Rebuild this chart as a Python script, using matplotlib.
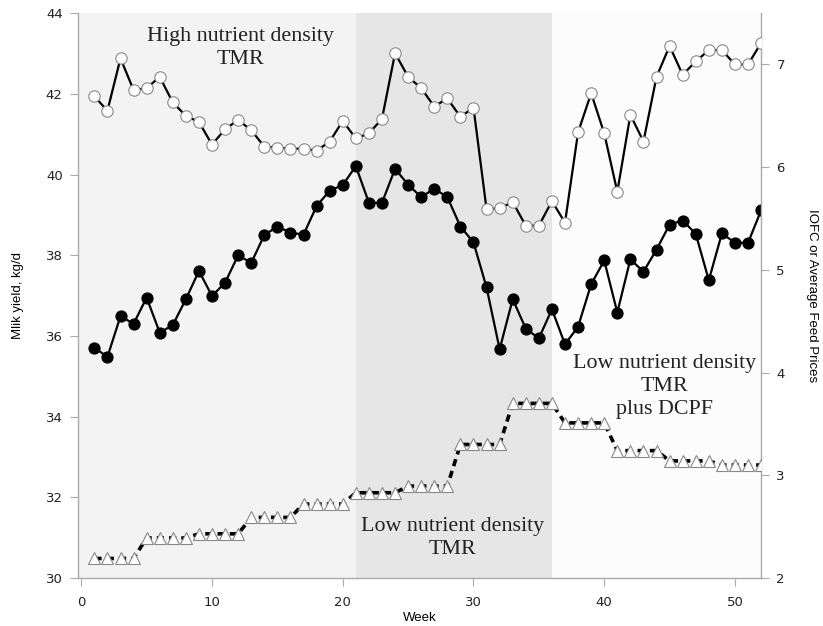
import matplotlib.pyplot as plt

semanas = list(range(1, 53))

# producao de leite (eixo esquerdo, kg/d)
leite = [35.71, 35.48, 36.49, 36.30, 36.95, 36.08, 36.27, 36.91, 37.61, 36.99,
         37.32, 38.00, 37.81, 38.50, 38.71, 38.56, 38.51, 39.22, 39.60, 39.74,
         40.21, 39.30, 39.30, 40.14, 39.75, 39.44, 39.65, 39.44, 38.71, 38.32,
         37.20, 35.67, 36.91, 36.18, 35.94, 36.66, 35.79, 36.23, 37.28, 37.87,
         36.58, 37.90, 37.59, 38.14, 38.76, 38.86, 38.53, 37.38, 38.54, 38.31,
         38.31, 39.11]

# IOFC (eixo direito)
iofc = [6.69, 6.55, 7.06, 6.75, 6.77, 6.88, 6.63, 6.50, 6.44, 6.22,
        6.37, 6.46, 6.36, 6.20, 6.19, 6.18, 6.18, 6.16, 6.25, 6.45,
        6.28, 6.33, 6.47, 7.11, 6.88, 6.77, 6.59, 6.67, 6.49, 6.58,
        5.59, 5.60, 5.66, 5.43, 5.43, 5.67, 5.46, 6.34, 6.72, 6.33,
        5.76, 6.51, 6.25, 6.88, 7.18, 6.90, 7.03, 7.14, 7.14, 7.00,
        7.00, 7.21]

# preco medio da racao (eixo direito), muda a cada 4 semanas
preco = [2.19] * 4 + [2.39] * 4 + [2.43] * 4 + [2.59] * 4 + [2.72] * 4 + \
        [2.83] * 4 + [2.895] * 4 + [3.30] * 4 + [3.70] * 4 + [3.51] * 4 + \
        [3.24] * 4 + [3.14] * 4 + [3.10] * 4

periodos = [(-0.25, 21, '#f3f3f3'), (21, 36, '#e6e6e6'), (36, 52, '#fcfcfc')]

fig = plt.figure(figsize=(8.23, 6.26), dpi=100)
ax = fig.add_axes([0.0948, 0.0767, 0.83, 0.9023])
ax2 = ax.twinx()

for ini, fim, cor in periodos:
    ax.axvspan(ini, fim, color=cor, lw=0, zorder=0)

ax.plot(semanas, leite, color='black', lw=1.6, marker='o', ms=7.8,
        mfc='black', mec='black', zorder=3)
ax2.plot(semanas, preco, color='black', lw=2.6, ls=(0, (2.0, 1.4)), zorder=2)
ax2.plot(semanas, preco, ls='none', marker='^', ms=8, mfc='white',
         mec='#888888', mew=0.8, zorder=3)
ax2.plot(semanas, iofc, color='black', lw=1.6, marker='o', ms=8.2,
         mfc='white', mec='#888888', mew=0.8, zorder=3)

ax.set_xlim(-0.25, 52)
ax.set_ylim(30, 44)
ax2.set_ylim(2, 7.5)
ax.set_yticks(range(30, 45, 2))
ax2.set_yticks(range(2, 8))
ax.set_xticks(range(0, 51, 10))

for a in (ax, ax2):
    for s in a.spines.values():
        s.set_color('#aaaaaa')
        s.set_linewidth(1.0)
    a.spines['top'].set_visible(False)
    a.tick_params(colors='#aaaaaa', labelcolor='#222222', labelsize=9.5,
                  length=6, pad=5)
ax.tick_params(axis='x', pad=7)
ax.spines['right'].set_visible(False)
ax2.spines['left'].set_visible(False)
ax2.spines['bottom'].set_visible(False)

ax.set_xlabel('Week', fontsize=9.5, family='Liberation Sans', labelpad=2)
ax.set_ylabel('Mlik yield, kg/d', fontsize=9.5, family='Liberation Sans', labelpad=16)
ax2.set_ylabel('IOFC or Average Feed Prices', fontsize=9.5, family='Liberation Sans',
               rotation=270, labelpad=24)

serif = dict(family='Liberation Serif', fontsize=15.8, ha='center', va='center',
             linespacing=1.3, color='#222222')
ax.text(12.2, 43.13, 'High nutrient density\nTMR', **serif)
ax.text(28.4, 31.0, 'Low nutrient density\nTMR', **serif)
ax.text(44.6, 34.75, 'Low nutrient density\nTMR\nplus DCPF', **serif)

fig.savefig('out.png', dpi=100)
